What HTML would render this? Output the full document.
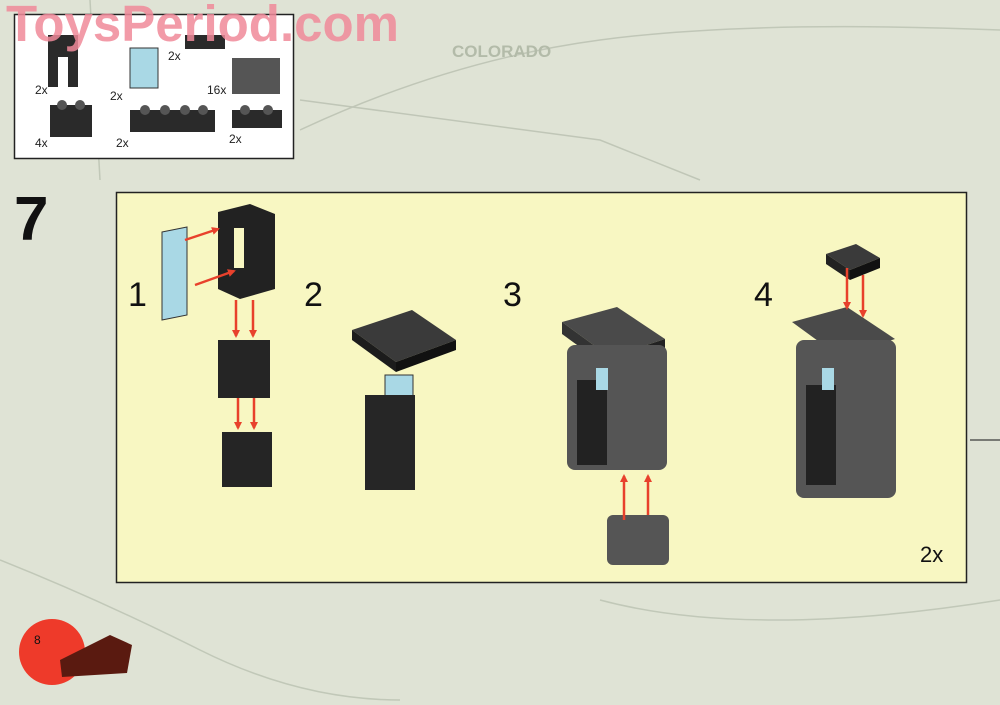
<!DOCTYPE html>
<html><head><meta charset="utf-8"><style>
html,body{margin:0;padding:0}
body{width:1000px;height:705px;background:#dfe3d5;position:relative;overflow:hidden;font-family:"Liberation Sans",sans-serif}
.abs{position:absolute}
</style></head><body>
<svg class="abs" style="left:0;top:0" width="1000" height="705">
 <defs>
  <marker id="ah" markerWidth="8" markerHeight="8" refX="6" refY="4" orient="auto" markerUnits="userSpaceOnUse">
   <path d="M0 0 L8 4 L0 8z" fill="#e8412c"/>
  </marker>
 </defs>
 <g stroke="#b9c0b0" stroke-width="1.5" fill="none" opacity="0.8">
  <path d="M300 130 Q450 60 600 40 T1000 30"/>
  <path d="M300 100 L600 140 L700 180"/>
  <path d="M0 560 Q100 600 200 650 T400 700"/>
  <path d="M970 440 L1000 440" stroke="#333"/>
  <path d="M600 600 Q750 640 1000 600"/>
  <path d="M90 0 L100 180"/>
 </g>
 <text x="452" y="57" font-size="17" font-weight="bold" fill="#b3bba9" font-family="Liberation Sans">COLORADO</text>
 <rect x="14.5" y="14.5" width="279" height="144" fill="#fff" stroke="#222" stroke-width="1.5"/>
 <g font-size="12" fill="#222">
  <text x="35" y="94">2x</text><text x="110" y="100">2x</text><text x="168" y="60">2x</text>
  <text x="207" y="94">16x</text><text x="35" y="147">4x</text><text x="116" y="147">2x</text><text x="229" y="143">2x</text>
 </g>
 <g fill="#2a2a2a">
  <path d="M48 35 h30 v52 h-10 v-30 h-10 v30 h-10z"/>
  <rect x="50" y="105" width="42" height="32"/>
  <rect x="185" y="35" width="40" height="14"/>
  <rect x="130" y="110" width="85" height="22"/>
  <rect x="232" y="110" width="50" height="18"/>
 </g>
 <g fill="#555">
  <circle cx="62" cy="105" r="5"/><circle cx="80" cy="105" r="5"/>
  <circle cx="145" cy="110" r="5"/><circle cx="165" cy="110" r="5"/><circle cx="185" cy="110" r="5"/><circle cx="203" cy="110" r="5"/>
  <circle cx="245" cy="110" r="5"/><circle cx="268" cy="110" r="5"/>
 </g>
 <rect x="130" y="48" width="28" height="40" fill="#a9d8e5" stroke="#333"/>
 <rect x="232" y="58" width="48" height="36" fill="#555" />
 <text x="14" y="240" font-size="62" font-weight="bold" fill="#111">7</text>
 <rect x="116.5" y="192.5" width="850" height="390" fill="#f8f7c2" stroke="#222" stroke-width="1.5"/>
 <g font-size="34" fill="#111">
  <text x="128" y="306">1</text><text x="304" y="306">2</text><text x="503" y="306">3</text><text x="754" y="306">4</text>
 </g>
 <text x="920" y="562" font-size="22" fill="#111">2x</text>
 <path d="M162 232 l25 -5 v88 l-25 5z" fill="#a9d8e5" stroke="#333"/>
 <path d="M218 212 l32 -8 l25 10 v75 l-35 10 l-22 -10z" fill="#222"/>
 <rect x="234" y="228" width="10" height="40" fill="#f8f7c2"/>
 <rect x="218" y="340" width="52" height="58" fill="#252525"/>
 <rect x="222" y="432" width="50" height="55" fill="#252525"/>
 <path d="M352 330 l60 -20 l44 30 l-60 22z" fill="#3a3a3a"/>
 <path d="M352 330 l44 32 v10 l-44 -32z" fill="#1c1c1c"/>
 <path d="M396 362 l60 -22 v10 l-60 22z" fill="#111"/>
 <rect x="385" y="375" width="28" height="40" fill="#a9d8e5" stroke="#333"/>
 <rect x="365" y="395" width="50" height="95" fill="#262626"/>
 <path d="M562 322 l55 -15 l48 32 l-55 18z" fill="#4a4a4a"/>
 <path d="M562 322 l48 35 v12 l-48 -35z" fill="#333"/>
 <path d="M610 357 l55 -18 v12 l-55 18z" fill="#222"/>
 <rect x="567" y="345" width="100" height="125" fill="#555" rx="8"/>
 <rect x="577" y="380" width="30" height="85" fill="#222"/>
 <rect x="596" y="368" width="12" height="22" fill="#a9d8e5"/>
 <rect x="607" y="515" width="62" height="50" fill="#555" rx="6"/>
 <path d="M826 254 l30 -10 l24 14 l-30 12z" fill="#3a3a3a"/>
 <path d="M826 254 v10 l24 16 v-10z" fill="#222"/><path d="M850 270 l30 -12 v10 l-30 12z" fill="#111"/>
 <path d="M792 322 l55 -15 l48 32 l-55 18z" fill="#4a4a4a"/>
 <rect x="796" y="340" width="100" height="158" fill="#555" rx="8"/>
 <rect x="806" y="385" width="30" height="100" fill="#222"/>
 <rect x="822" y="368" width="12" height="22" fill="#a9d8e5"/>
 <g stroke="#e8412c" stroke-width="2.5" marker-end="url(#ah)">
  <line x1="185" y1="240" x2="218" y2="229"/><line x1="195" y1="285" x2="234" y2="271"/>
  <line x1="236" y1="300" x2="236" y2="336"/><line x1="253" y1="300" x2="253" y2="336"/>
  <line x1="238" y1="398" x2="238" y2="428"/><line x1="254" y1="398" x2="254" y2="428"/>
  <line x1="624" y1="520" x2="624" y2="476"/><line x1="648" y1="515" x2="648" y2="476"/>
  <line x1="847" y1="268" x2="847" y2="308"/><line x1="863" y1="275" x2="863" y2="316"/>
 </g>
 <circle cx="52" cy="652" r="33" fill="#ee3a2a"/>
 <text x="34" y="644" font-size="12" fill="#111">8</text>
 <path d="M60 660 l50 -25 l22 10 l-5 28 l-65 4z" fill="#5a1a10"/>
</svg>
<div class="abs" style="left:6px;top:-6px;font-size:51px;font-weight:bold;color:#f08a9a;opacity:0.85">ToysPeriod.com</div>
</body></html>
